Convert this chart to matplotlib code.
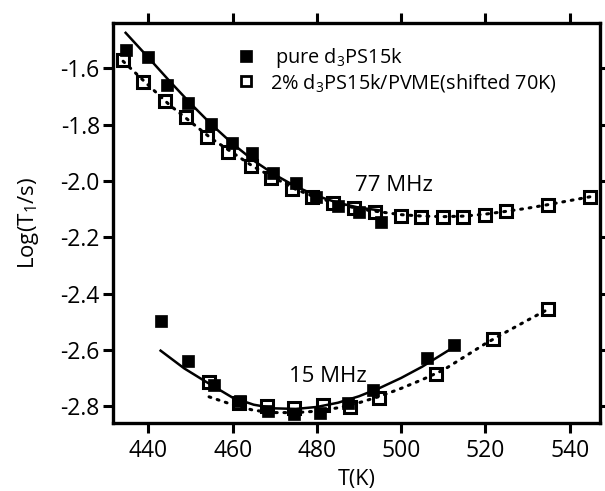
import matplotlib
matplotlib.use("Agg")
import matplotlib.pyplot as plt
from matplotlib.lines import Line2D

plt.rcParams['font.family'] = ['Open Sans', 'DejaVu Sans']
plt.rcParams['mathtext.fontset'] = 'custom'
plt.rcParams['mathtext.rm'] = 'Open Sans'
plt.rcParams['mathtext.it'] = 'Open Sans'
plt.rcParams['font.size'] = 16

# 77 MHz, pure d3PS15k (filled)
T77_pure = [434.6, 439.8, 444.5, 449.5, 454.8, 459.8, 464.7, 469.5, 475.0, 479.8, 485.0, 490.1, 495.3]
L77_pure = [-1.535, -1.561, -1.659, -1.724, -1.798, -1.864, -1.900, -1.973, -2.009, -2.056, -2.089, -2.112, -2.145]
# 77 MHz, 2% blend (open, shifted 70K)
T77_blend = [434.0, 438.8, 443.9, 448.9, 453.8, 458.8, 464.3, 469.1, 474.0, 478.9, 483.8, 488.9, 493.9,
             500.0, 504.8, 509.9, 514.8, 519.8, 524.8, 534.9, 544.8]
L77_blend = [-1.570, -1.648, -1.715, -1.772, -1.845, -1.896, -1.947, -1.989, -2.030, -2.058, -2.080, -2.097, -2.109,
             -2.125, -2.129, -2.129, -2.127, -2.121, -2.106, -2.086, -2.056]
# 15 MHz, pure (filled)
T15_pure = [442.9, 449.3, 455.5, 461.8, 468.3, 474.6, 480.8, 487.3, 493.4, 506.2, 512.5]
L15_pure = [-2.498, -2.640, -2.725, -2.781, -2.816, -2.828, -2.823, -2.788, -2.743, -2.630, -2.583]
# 15 MHz, blend (open)
T15_blend = [454.4, 461.4, 468.2, 474.6, 481.4, 487.9, 494.7, 508.2, 521.7, 534.9]
L15_blend = [-2.715, -2.790, -2.800, -2.808, -2.796, -2.802, -2.772, -2.687, -2.563, -2.455]

# fit curves
fit77_pure_T = [434.6, 440, 445, 450, 455, 460, 465, 470, 475, 480, 485, 490, 495]
fit77_pure_L = [-1.474, -1.562, -1.645, -1.725, -1.800, -1.868, -1.928, -1.978, -2.020, -2.053, -2.078, -2.095, -2.105]
fit77_blend_T = [434, 440, 445, 450, 455, 460, 465, 470, 475, 480, 485, 490, 495, 500, 505, 510, 515, 520, 525, 530, 535, 540, 545]
fit77_blend_L = [-1.575, -1.660, -1.730, -1.790, -1.850, -1.900, -1.950, -1.990, -2.030, -2.060, -2.080, -2.100, -2.110,
                 -2.120, -2.125, -2.127, -2.125, -2.118, -2.108, -2.097, -2.084, -2.070, -2.056]
fit15_pure_T = [442.9, 448.5, 453.6, 460, 465, 470, 475, 480, 485, 490, 495, 500, 505, 512]
fit15_pure_L = [-2.603, -2.666, -2.713, -2.770, -2.795, -2.808, -2.810, -2.803, -2.788, -2.765, -2.735, -2.700, -2.660, -2.595]
fit15_blend_T = [454.4, 460, 465, 470, 475, 480, 485, 490, 495, 500, 505, 510, 515, 520, 525, 530, 535]
fit15_blend_L = [-2.767, -2.795, -2.815, -2.823, -2.823, -2.818, -2.806, -2.788, -2.765, -2.737, -2.706, -2.672, -2.625,
                 -2.578, -2.536, -2.495, -2.455]

xticks = [440, 460, 480, 500, 520, 540]
yticks = [-1.6, -1.8, -2.0, -2.2, -2.4, -2.6, -2.8]

fig = plt.figure(figsize=(6.05, 4.91), dpi=100)
ax = fig.add_axes([0.1868, 0.1385, 0.8049, 0.8147])

lw = 1.8
dot = (0, (0.6, 2.2))
ax.plot(fit77_pure_T, fit77_pure_L, color='black', lw=lw, zorder=2)
ax.plot(fit77_blend_T, fit77_blend_L, color='black', lw=2.2, ls=dot, dash_capstyle='round', zorder=2)
ax.plot(fit15_pure_T, fit15_pure_L, color='black', lw=lw, zorder=2)
ax.plot(fit15_blend_T, fit15_blend_L, color='black', lw=2.2, ls=dot, dash_capstyle='round', zorder=2)

open_kw = dict(ls='none', marker='s', ms=8.0, mfc='none', mec='black', mew=2.2, zorder=3)
fill_kw = dict(ls='none', marker='s', ms=9.0, mfc='black', mec='black', mew=0.5, zorder=4)
ax.plot(T77_blend, L77_blend, **open_kw)
ax.plot(T15_blend, L15_blend, **open_kw)
ax.plot(T77_pure, L77_pure, **fill_kw)
ax.plot(T15_pure, L15_pure, **fill_kw)

ax.set_xlim(431.6, 547.2)
ax.set_ylim(-2.86, -1.439)
ax.set_xticks(xticks)
ax.set_yticks(yticks)
ax.set_yticklabels([f"{v:.1f}" for v in yticks])
ax.tick_params(direction='out', length=7.5, width=2.2, top=True, right=True,
               labeltop=False, labelright=False, labelsize=16.5)
ax.tick_params(axis='x', pad=4)
ax.tick_params(axis='y', pad=2)
for s in ax.spines.values():
    s.set_linewidth(2.4)

ax.set_xlabel('T(K)', labelpad=4, fontsize=15.5)
ax.set_ylabel('Log(T$_1$/s)', labelpad=14, fontsize=16)

ax.text(498.2, -2.015, '77 MHz', ha='center', va='center', fontsize=16)
ax.text(482.6, -2.694, '15 MHz', ha='center', va='center', fontsize=16)

h1 = Line2D([], [], ls='none', marker='s', ms=8.4, mfc='black', mec='black', mew=0.5)
h2 = Line2D([], [], ls='none', marker='s', ms=7.4, mfc='none', mec='black', mew=2.0)
ax.legend([h1, h2], [' pure d$_3$PS15k', '2% d$_3$PS15k/PVME(shifted 70K)'],
          loc='upper left', bbox_to_anchor=(0.257, 0.942), frameon=False,
          handlelength=0.8, handletextpad=0.8, labelspacing=0.08, borderpad=0,
          borderaxespad=0, fontsize=14.3)

fig.savefig('out.png', dpi=100)
